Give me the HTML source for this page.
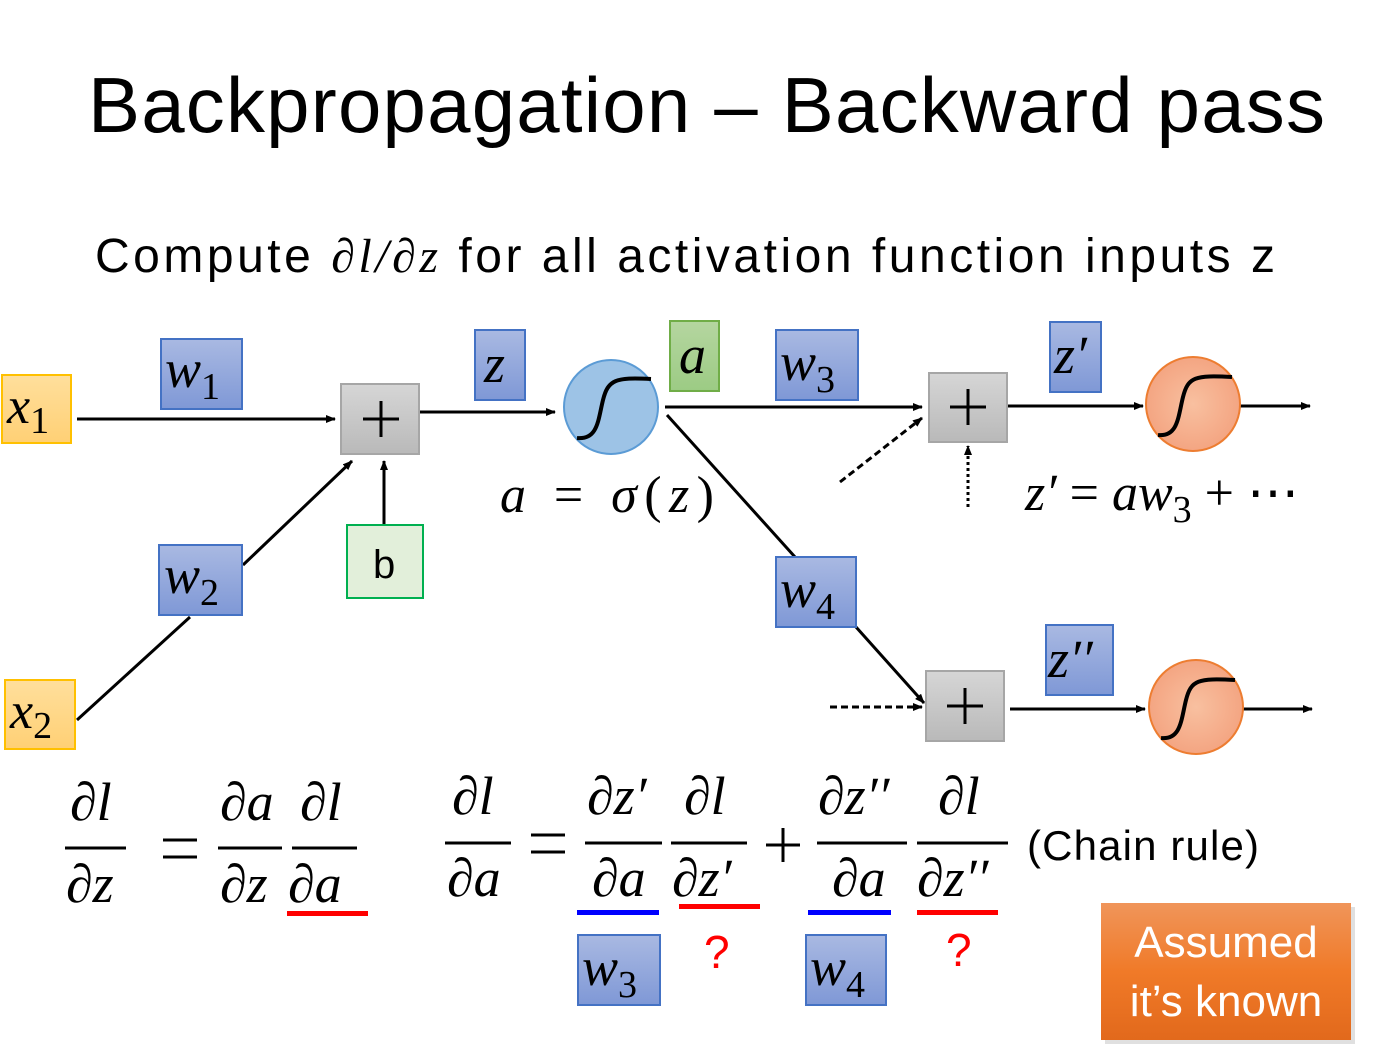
<!DOCTYPE html>
<html><head><meta charset="utf-8"><style>
html,body{margin:0;padding:0;background:#fff;}
svg{display:block}
.m{font-family:"Liberation Serif",serif;font-style:italic;fill:#000}
.s{font-family:"Liberation Sans",sans-serif;fill:#000}
</style></head><body>
<svg width="1391" height="1050" viewBox="0 0 1391 1050" xmlns="http://www.w3.org/2000/svg">
<defs>
<marker id="ar" markerWidth="10" markerHeight="8" refX="9" refY="4" orient="auto" markerUnits="userSpaceOnUse"><path d="M0,0 L10,4 L0,8 z" fill="#000"/></marker>
<linearGradient id="bl" x1="0" y1="0" x2="0" y2="1"><stop offset="0" stop-color="#a9b9e2"/><stop offset="1" stop-color="#7f98d6"/></linearGradient>
<linearGradient id="yl" x1="0" y1="0" x2="0" y2="1"><stop offset="0" stop-color="#ffdf9c"/><stop offset="1" stop-color="#ffd075"/></linearGradient>
<linearGradient id="gr" x1="0" y1="0" x2="0" y2="1"><stop offset="0" stop-color="#d6d6d6"/><stop offset="1" stop-color="#b9b9b9"/></linearGradient>
<linearGradient id="gn" x1="0" y1="0" x2="0" y2="1"><stop offset="0" stop-color="#b5d6a0"/><stop offset="1" stop-color="#9ccb84"/></linearGradient>
<linearGradient id="or" x1="0" y1="0" x2="0" y2="1"><stop offset="0" stop-color="#f0955a"/><stop offset="0.5" stop-color="#f07a28"/><stop offset="1" stop-color="#e2691c"/></linearGradient>
<radialGradient id="oc"><stop offset="0" stop-color="#f8c0a0"/><stop offset="1" stop-color="#f4a582"/></radialGradient>
</defs>
<text x="88" y="132" class="s" font-size="78" textLength="1237">Backpropagation – Backward pass</text>
<text x="95" y="272" class="s" font-size="48" textLength="1180">Compute <tspan class="m">∂l/∂z</tspan> for all activation function inputs z</text>

<g stroke="#000" stroke-width="3" fill="none">
<line x1="77" y1="419" x2="335" y2="419" marker-end="url(#ar)"/>
<line x1="419" y1="412" x2="555" y2="412" marker-end="url(#ar)"/>
<line x1="665" y1="407" x2="922" y2="407" marker-end="url(#ar)"/>
<line x1="1007" y1="406" x2="1143" y2="406" marker-end="url(#ar)"/>
<line x1="1240" y1="406" x2="1310" y2="406" marker-end="url(#ar)"/>
<line x1="667" y1="415" x2="795" y2="557"/>
<line x1="856" y1="627" x2="924" y2="703" marker-end="url(#ar)"/>
<line x1="1010" y1="709" x2="1145" y2="709" marker-end="url(#ar)"/>
<line x1="1243" y1="709" x2="1312" y2="709" marker-end="url(#ar)"/>
<line x1="77" y1="720" x2="190" y2="617"/>
<line x1="243" y1="565" x2="352" y2="461" marker-end="url(#ar)"/>
<line x1="384" y1="525" x2="384" y2="461" marker-end="url(#ar)"/>
<line x1="840" y1="482" x2="922" y2="418" stroke-dasharray="7,4" marker-end="url(#ar)"/>
<line x1="968" y1="507" x2="968" y2="446" stroke-dasharray="3,3" marker-end="url(#ar)"/>
<line x1="830" y1="707" x2="922" y2="707" stroke-dasharray="7,4" marker-end="url(#ar)"/>
</g>

<rect x="2" y="375" width="69" height="68" fill="url(#yl)" stroke="#ffc000" stroke-width="2"/>
<text x="7" y="423" class="m" font-size="52">x<tspan font-style="normal" font-size="38" dy="10">1</tspan></text>
<rect x="5" y="680" width="70" height="69" fill="url(#yl)" stroke="#ffc000" stroke-width="2"/>
<text x="10" y="728" class="m" font-size="52">x<tspan font-style="normal" font-size="38" dy="10">2</tspan></text>

<rect x="161" y="339" width="81" height="70" fill="url(#bl)" stroke="#4472c4" stroke-width="2"/>
<text x="165" y="387" class="m" font-size="54">w<tspan font-style="normal" font-size="38" dy="12">1</tspan></text>
<rect x="159" y="545" width="83" height="70" fill="url(#bl)" stroke="#4472c4" stroke-width="2"/>
<text x="164" y="593" class="m" font-size="54">w<tspan font-style="normal" font-size="38" dy="12">2</tspan></text>
<rect x="475" y="330" width="50" height="70" fill="url(#bl)" stroke="#4472c4" stroke-width="2"/>
<text x="484" y="382" class="m" font-size="54">z</text>
<rect x="776" y="330" width="82" height="70" fill="url(#bl)" stroke="#4472c4" stroke-width="2"/>
<text x="780" y="380" class="m" font-size="54">w<tspan font-style="normal" font-size="38" dy="12">3</tspan></text>
<rect x="776" y="557" width="80" height="70" fill="url(#bl)" stroke="#4472c4" stroke-width="2"/>
<text x="780" y="607" class="m" font-size="54">w<tspan font-style="normal" font-size="38" dy="12">4</tspan></text>
<rect x="1050" y="322" width="51" height="70" fill="url(#bl)" stroke="#4472c4" stroke-width="2"/>
<text x="1054" y="373" class="m" font-size="54">z′</text>
<rect x="1046" y="625" width="67" height="70" fill="url(#bl)" stroke="#4472c4" stroke-width="2"/>
<text x="1048" y="677" class="m" font-size="54">z′′</text>

<rect x="670" y="321" width="49" height="70" fill="url(#gn)" stroke="#70ad47" stroke-width="2"/>
<text x="679" y="373" class="m" font-size="54">a</text>
<rect x="347" y="525" width="76" height="73" fill="#e2efda" stroke="#00b050" stroke-width="2"/>
<text x="373" y="578" class="s" font-size="40">b</text>

<g stroke="#a6a6a6" stroke-width="2" fill="url(#gr)">
<rect x="341" y="384" width="78" height="70"/>
<rect x="929" y="373" width="78" height="69"/>
<rect x="926" y="671" width="78" height="70"/>
</g>
<g stroke="#000" stroke-width="3">
<line x1="363" y1="419" x2="399" y2="419"/><line x1="381" y1="401" x2="381" y2="437"/>
<line x1="950" y1="407" x2="986" y2="407"/><line x1="968" y1="389" x2="968" y2="425"/>
<line x1="947" y1="706" x2="983" y2="706"/><line x1="965" y1="688" x2="965" y2="724"/>
</g>

<ellipse cx="611" cy="407" rx="47" ry="47" fill="#9dc3e6" stroke="#5b9bd5" stroke-width="2"/>
<path d="M577,438 C598,440 598,420 603,400 C608,380 615,377 651,379" stroke="#000" stroke-width="4" fill="none"/>
<circle cx="1193" cy="404" r="47" fill="url(#oc)" stroke="#ed7d31" stroke-width="2"/>
<path d="M1158,435 C1178,437 1178,417 1183,397 C1188,377 1195,375 1232,377" stroke="#000" stroke-width="4" fill="none"/>
<circle cx="1196" cy="707" r="47" fill="url(#oc)" stroke="#ed7d31" stroke-width="2"/>
<path d="M1161,738 C1181,740 1181,720 1186,700 C1191,680 1198,678 1235,680" stroke="#000" stroke-width="4" fill="none"/>

<text x="500" y="512" class="m" font-size="52" textLength="214">a <tspan font-style="normal">=</tspan> σ<tspan font-style="normal">(</tspan>z<tspan font-style="normal">)</tspan></text>
<text x="1025" y="510" class="m" font-size="52">z′ <tspan font-style="normal">=</tspan> aw<tspan font-style="normal" font-size="38" dy="12">3</tspan><tspan font-style="normal" dy="-12"> + ⋯</tspan></text>

<g class="m" font-size="54">
<text x="70" y="820">∂l</text><text x="66" y="902">∂z</text>
<text x="220" y="820">∂a</text><text x="220" y="902">∂z</text>
<text x="300" y="820">∂l</text><text x="288" y="902">∂a</text>
<text x="452" y="814">∂l</text><text x="447" y="896">∂a</text>
<text x="587" y="814">∂z′</text><text x="592" y="896">∂a</text>
<text x="684" y="814">∂l</text><text x="672" y="896">∂z′</text>
<text x="818" y="814">∂z′′</text><text x="832" y="896">∂a</text>
<text x="938" y="814">∂l</text><text x="917" y="896">∂z′′</text>
</g>
<g stroke="#000" stroke-width="3">
<line x1="65" y1="848" x2="126" y2="848"/>
<line x1="218" y1="848" x2="282" y2="848"/><line x1="292" y1="848" x2="357" y2="848"/>
<line x1="445" y1="843" x2="511" y2="843"/>
<line x1="585" y1="843" x2="662" y2="843"/><line x1="671" y1="843" x2="747" y2="843"/>
<line x1="817" y1="843" x2="907" y2="843"/><line x1="917" y1="843" x2="1008" y2="843"/>
<line x1="163" y1="840" x2="197" y2="840"/><line x1="163" y1="857" x2="197" y2="857"/>
<line x1="531" y1="835" x2="565" y2="835"/><line x1="531" y1="852" x2="565" y2="852"/>
<line x1="766" y1="845" x2="800" y2="845"/><line x1="783" y1="828" x2="783" y2="862"/>
</g>
<rect x="287" y="911" width="81" height="5" fill="#f00"/>
<rect x="577" y="910" width="82" height="5" fill="#00f"/>
<rect x="679" y="904" width="81" height="5" fill="#f00"/>
<rect x="808" y="910" width="83" height="5" fill="#00f"/>
<rect x="917" y="910" width="81" height="5" fill="#f00"/>
<text x="1027" y="860" class="s" font-size="42" textLength="232">(Chain rule)</text>

<rect x="578" y="935" width="82" height="70" fill="url(#bl)" stroke="#4472c4" stroke-width="2"/>
<text x="582" y="985" class="m" font-size="54">w<tspan font-style="normal" font-size="38" dy="12">3</tspan></text>
<rect x="806" y="935" width="80" height="70" fill="url(#bl)" stroke="#4472c4" stroke-width="2"/>
<text x="810" y="985" class="m" font-size="54">w<tspan font-style="normal" font-size="38" dy="12">4</tspan></text>
<text x="704" y="968" class="s" font-size="46" style="fill:#f00">?</text>
<text x="946" y="966" class="s" font-size="46" style="fill:#f00">?</text>

<rect x="1105" y="907" width="250" height="137" fill="#ccc" opacity="0.6"/>
<rect x="1101" y="903" width="250" height="137" fill="url(#or)"/>
<text x="1226" y="957" class="s" font-size="44" text-anchor="middle" style="fill:#fff">Assumed</text>
<text x="1226" y="1016" class="s" font-size="44" text-anchor="middle" style="fill:#fff">it’s known</text>
</svg>
</body></html>
